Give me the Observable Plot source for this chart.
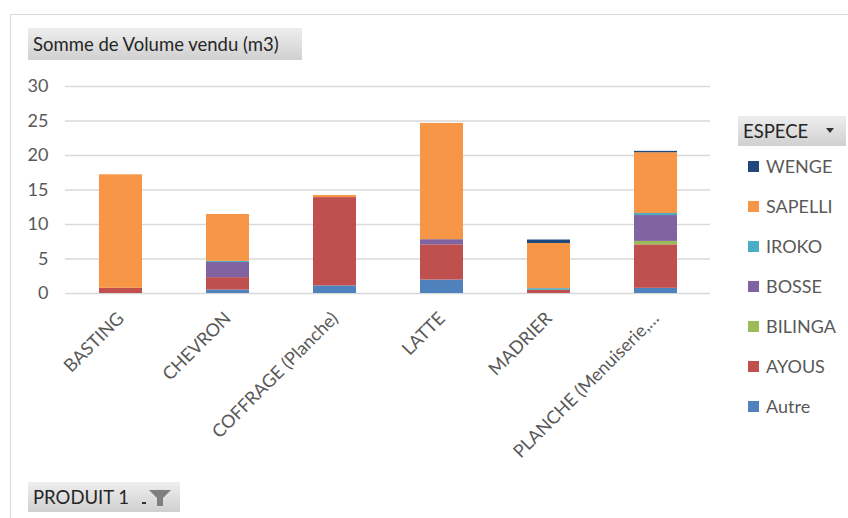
<!DOCTYPE html>
<html><head><meta charset="utf-8">
<script src="https://cdn.jsdelivr.net/npm/d3@7"></script>
<script src="https://cdn.jsdelivr.net/npm/@observablehq/plot@0.6"></script>
<style>
body{margin:0;background:#fff;font-family:Lato,sans-serif;}
#wrap{position:relative;width:848px;height:518px;overflow:hidden;}
#frame{position:absolute;left:10px;top:14px;width:840px;height:510px;border-left:1.5px solid #d9d9d9;border-top:1.5px solid #d9d9d9;}
.btn{position:absolute;background:linear-gradient(#eeeeee,#d0d0d0);color:#262626;font-size:18.5px;display:flex;align-items:center;box-sizing:border-box;padding-left:5px;}
#chart{position:absolute;left:0;top:0;}
.leg{position:absolute;left:748px;font-size:18px;color:#595959;display:flex;align-items:center;}
.sw{width:11px;height:11px;margin-right:7px;}
</style></head>
<body><div id="wrap"><div id="frame"></div><div id="chart"></div></div>
<script>
const produits = ["BASTING","CHEVRON","COFFRAGE (Planche)","LATTE","MADRIER","PLANCHE (Menuiserie, ...)"];
const tickLabels = ["BASTING","CHEVRON","COFFRAGE (Planche)","LATTE","MADRIER","PLANCHE (Menuiserie,…"];
const especes = ["Autre","AYOUS","BILINGA","BOSSE","IROKO","SAPELLI","WENGE"];
const couleurs = ["#4F81BD","#C0504D","#9BBB59","#8064A2","#4BACC6","#F79646","#1F497D"];
const autre   = [0,    0.5,  1.1,  1.95, 0,    0.75];
const ayous   = [0.75, 1.8,  12.8, 5.1,  0.45, 6.3];
const bilinga = [0,    0,    0,    0,    0,    0.5];
const bosse   = [0,    2.2,  0,    0.75, 0,    3.75];
const iroko   = [0,    0.15, 0,    0,    0.25, 0.3];
const sapelli = [16.45,6.8,  0.3,  16.85,6.55, 8.8];
const wenge   = [0,    0,    0,    0,    0.5,  0.2];
const yTicks = [0,5,10,15,20,25,30];

const series = [autre, ayous, bilinga, bosse, iroko, sapelli, wenge];
const data = [];
especes.forEach((e,i)=>produits.forEach((p,j)=>data.push({produit:p, espece:e, v:series[i][j]})));

const chart = Plot.plot({
  width: 848, height: 518,
  marginLeft: 65, marginRight: 138, marginTop: 86, marginBottom: 225,
  style:{fontFamily:"Lato", fontSize:"18px", color:"#595959", background:"transparent"},
  x:{domain:produits, paddingInner:0.6, paddingOuter:0.3, label:null},
  y:{domain:[0,30], label:null},
  color:{domain:especes, range:couleurs},
  marks:[
    Plot.gridY(yTicks,{stroke:"#d9d9d9", strokeOpacity:1, strokeWidth:1.4}),
    Plot.axisY(yTicks,{tickSize:0, tickPadding:17, fontSize:18, fill:"#595959"}),
    Plot.axisX({tickSize:0, tickPadding:14, dy:8, tickRotate:-45, fontSize:18, fill:"#595959",
      tickFormat:(d)=>tickLabels[produits.indexOf(d)]}),
    Plot.barY(data,{x:"produit", y:"v", fill:"espece", order:especes})
  ]
});
document.getElementById("chart").appendChild(chart);

const wrap = document.getElementById("wrap");
function btn(text, l, t, w, h, extra){
  const d=document.createElement("div"); d.className="btn";
  d.style.left=l+"px"; d.style.top=t+"px"; d.style.width=w+"px"; d.style.height=h+"px";
  d.innerHTML=text+(extra||""); wrap.appendChild(d);
}
btn("Somme de Volume vendu (m3)",28,28,274,32);
btn("ESPECE",738,116,108,30,'<svg style="position:absolute;left:88px;top:12px" width="8" height="5"><path d="M0,0H8L4,5Z" fill="#333"/></svg>');
btn("PRODUIT 1",28,482,152,30,'<svg style="position:absolute;left:113px;top:7px" width="34" height="18"><rect x="1" y="13" width="4" height="2" fill="#333"/><path d="M8,1H30L22,9V17H16V9Z" fill="#7f7f7f"/></svg>');
const order = ["WENGE","SAPELLI","IROKO","BOSSE","BILINGA","AYOUS","Autre"];
order.forEach((e,i)=>{
  const d=document.createElement("div"); d.className="leg";
  d.style.top=(156+i*40)+"px"; d.style.height="20px";
  d.innerHTML='<div class="sw" style="background:'+couleurs[especes.indexOf(e)]+'"></div>'+e;
  wrap.appendChild(d);
});
</script></body></html>
